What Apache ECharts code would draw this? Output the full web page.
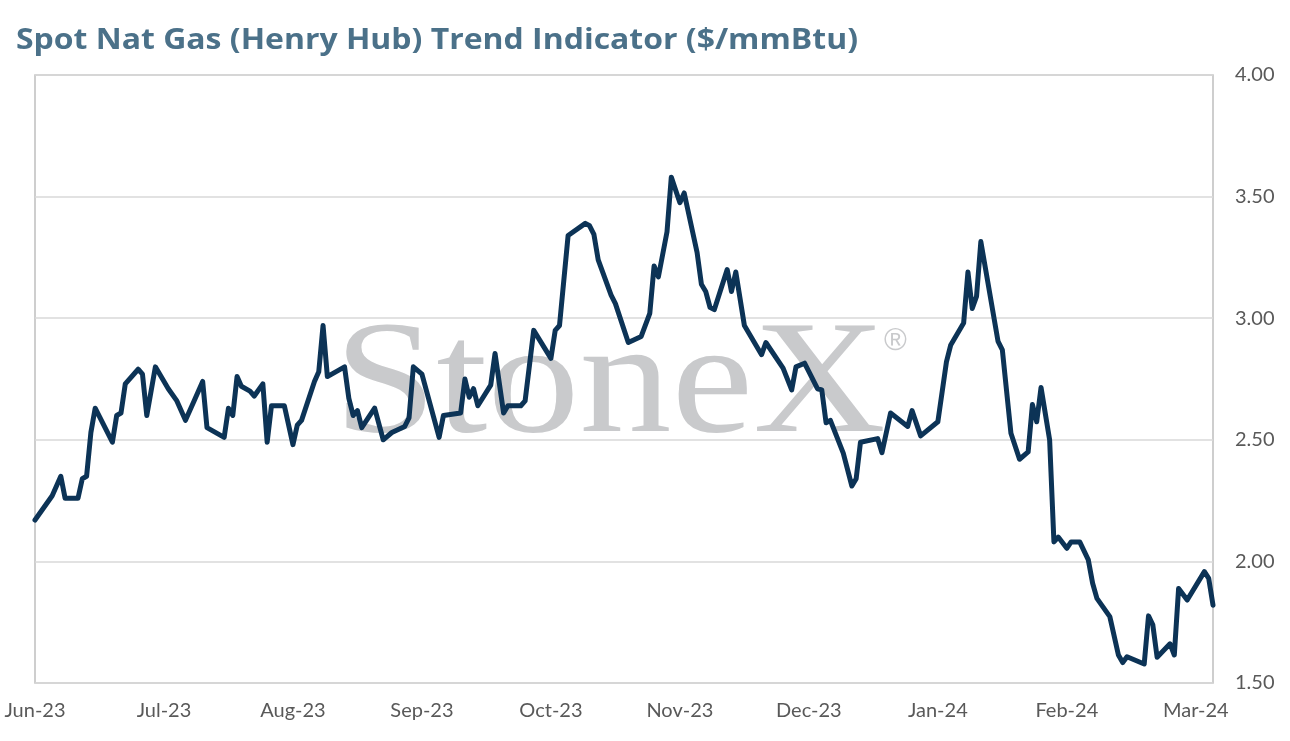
<!DOCTYPE html>
<html>
<head>
<meta charset="utf-8">
<script src="https://cdn.jsdelivr.net/npm/echarts@6/dist/echarts.min.js"></script>
<style>
html,body{margin:0;padding:0;background:#fff;}
#chart{width:1290px;height:741px;}
</style>
</head>
<body>
<div id="chart"></div>
<script>
const titleText = 'Spot Nat Gas (Henry Hub) Trend Indicator ($/mmBtu)';
const xTickLabels = ['Jun-23','Jul-23','Aug-23','Sep-23','Oct-23','Nov-23','Dec-23','Jan-24','Feb-24','Mar-24'];
const xTickStepDays = 30;
const yTicks = [1.5, 2.0, 2.5, 3.0, 3.5, 4.0];

const dates = [
'2023-06-01','2023-06-05','2023-06-07','2023-06-08','2023-06-11','2023-06-12','2023-06-13','2023-06-14','2023-06-15','2023-06-19',
'2023-06-20','2023-06-21','2023-06-22','2023-06-25','2023-06-26','2023-06-27','2023-06-29','2023-07-02','2023-07-04','2023-07-06',
'2023-07-08','2023-07-10','2023-07-11','2023-07-15','2023-07-16','2023-07-17','2023-07-18','2023-07-19','2023-07-21','2023-07-22',
'2023-07-24','2023-07-25','2023-07-26','2023-07-29','2023-07-31','2023-08-01','2023-08-02','2023-08-05','2023-08-06','2023-08-07',
'2023-08-08','2023-08-12','2023-08-13','2023-08-14','2023-08-15','2023-08-16','2023-08-19','2023-08-21','2023-08-23','2023-08-26',
'2023-08-27','2023-08-28','2023-08-30','2023-09-03','2023-09-04','2023-09-08','2023-09-09','2023-09-10','2023-09-11','2023-09-12',
'2023-09-15','2023-09-16','2023-09-18','2023-09-19','2023-09-22','2023-09-23','2023-09-25','2023-09-29','2023-09-30','2023-10-01',
'2023-10-03','2023-10-07','2023-10-08','2023-10-09','2023-10-10','2023-10-13','2023-10-14','2023-10-17','2023-10-20','2023-10-22',
'2023-10-23','2023-10-24','2023-10-26','2023-10-27','2023-10-29','2023-10-30','2023-11-02','2023-11-03','2023-11-04','2023-11-05',
'2023-11-06','2023-11-09','2023-11-10','2023-11-11','2023-11-13','2023-11-17','2023-11-18','2023-11-22','2023-11-24','2023-11-25',
'2023-11-27','2023-11-30','2023-12-01','2023-12-02','2023-12-03','2023-12-06','2023-12-08','2023-12-09','2023-12-10','2023-12-14',
'2023-12-15','2023-12-17','2023-12-21','2023-12-22','2023-12-24','2023-12-28','2023-12-30','2023-12-31','2024-01-03','2024-01-04',
'2024-01-05','2024-01-06','2024-01-07','2024-01-11','2024-01-12','2024-01-14','2024-01-16','2024-01-18','2024-01-19','2024-01-20',
'2024-01-21','2024-01-23','2024-01-24','2024-01-25','2024-01-27','2024-01-28','2024-01-30','2024-02-01','2024-02-02','2024-02-03',
'2024-02-06','2024-02-08','2024-02-09','2024-02-10','2024-02-14','2024-02-15','2024-02-16','2024-02-17','2024-02-20','2024-02-21',
'2024-02-22','2024-02-24','2024-02-28','2024-02-29','2024-03-01'
];

const prices = [
2.17,2.27,2.35,2.26,2.26,2.34,2.35,2.53,2.63,2.49,
2.60,2.61,2.73,2.79,2.77,2.60,2.80,2.71,2.66,2.58,
2.66,2.74,2.55,2.51,2.63,2.60,2.76,2.72,2.70,2.68,
2.73,2.49,2.64,2.64,2.48,2.56,2.58,2.74,2.78,2.97,
2.76,2.80,2.67,2.60,2.62,2.55,2.63,2.50,2.53,2.555,
2.59,2.80,2.77,2.51,2.60,2.61,2.75,2.675,2.71,2.64,
2.725,2.855,2.61,2.64,2.64,2.66,2.95,2.835,2.95,2.97,
3.34,3.39,3.38,3.345,3.24,3.095,3.06,2.90,2.925,3.02,
3.215,3.17,3.355,3.58,3.475,3.515,3.27,3.14,3.11,3.045,
3.035,3.20,3.11,3.19,2.97,2.85,2.90,2.795,2.705,2.80,
2.815,2.71,2.705,2.57,2.58,2.445,2.31,2.34,2.49,2.505,
2.447,2.61,2.555,2.62,2.516,2.574,2.82,2.89,2.98,3.19,
3.04,3.09,3.315,2.905,2.87,2.527,2.42,2.45,2.645,2.574,
2.715,2.50,2.08,2.10,2.054,2.08,2.08,2.006,1.91,1.848,
1.773,1.615,1.584,1.608,1.578,1.776,1.739,1.606,1.661,1.615,
1.889,1.841,1.958,1.93,1.82
];

const xMin = '2023-06-01';
const xMax = '2024-03-01';

const DAY = 86400000;
const toTs = s => Date.UTC(+s.slice(0, 4), +s.slice(5, 7) - 1, +s.slice(8, 10));
const xMinTs = toTs(xMin);
const xMaxTs = toTs(xMax);
const stepMs = xTickStepDays * DAY;

const seriesData = dates.map((d, i) => [toTs(d), prices[i]]);

const axisLabelColor = '#595959';
const labelFont = 'Lato, "Open Sans", sans-serif';
const titleFontSize = 28;
const titleFont = 'bold ' + titleFontSize + 'px "Open Sans", sans-serif';
const titleTargetWidth = 842;

const measureCtx = document.createElement('canvas').getContext('2d');
measureCtx.font = titleFont;
const titleScaleX = titleTargetWidth / measureCtx.measureText(titleText).width;

const wmFont = '162px "Liberation Serif", "DejaVu Serif", serif';
const wmTargetWidth = 552;
measureCtx.font = wmFont;
const wmScaleX = wmTargetWidth / measureCtx.measureText('StoneX').width;

const chart = echarts.init(document.getElementById('chart'), null, {renderer: 'canvas'});

chart.setOption({
  animation: false,
  backgroundColor: '#ffffff',
  graphic: [
    {
      type: 'text',
      x: 16,
      y: 27,
      scaleX: titleScaleX,
      z: 10,
      silent: true,
      style: {
        text: titleText,
        font: titleFont,
        fill: '#4b7189',
        align: 'left',
        verticalAlign: 'top'
      }
    },
    {
      type: 'text',
      x: 334,
      y: 307,
      scaleX: wmScaleX,
      z: 0,
      silent: true,
      style: {
        text: 'StoneX',
        font: wmFont,
        fill: '#c9cacc',
        align: 'left',
        verticalAlign: 'top'
      }
    },
    {
      type: 'text',
      x: 884,
      y: 326,
      z: 0,
      silent: true,
      style: {
        text: '®',
        font: '31px "Liberation Sans", sans-serif',
        fill: '#c9cacc',
        align: 'left',
        verticalAlign: 'top'
      }
    }
  ],
  grid: {
    left: 35,
    right: 77,
    top: 75,
    bottom: 58,
    show: true,
    borderColor: '#bfbfbf',
    borderWidth: 1.5,
    backgroundColor: 'transparent'
  },
  xAxis: {
    type: 'value',
    min: xMinTs,
    max: xMaxTs,
    interval: stepMs,
    axisLine: {show: false},
    axisTick: {show: false},
    splitLine: {show: false},
    axisLabel: {
      color: axisLabelColor,
      fontSize: 20,
      fontFamily: labelFont,
      margin: 18,
      showMinLabel: true,
      showMaxLabel: true,
      hideOverlap: false,
      formatter: function (v) {
        const r = (v - xMinTs) / stepMs;
        const k = Math.round(r);
        if (Math.abs(r - k) > 0.01) return '';
        return xTickLabels[k] || '';
      }
    }
  },
  yAxis: {
    type: 'value',
    position: 'right',
    min: yTicks[0],
    max: yTicks[yTicks.length - 1],
    interval: 0.5,
    axisLine: {show: false},
    axisTick: {show: false},
    splitLine: {show: true, lineStyle: {color: '#d9d9d9', width: 1.5}},
    axisLabel: {
      color: axisLabelColor,
      fontSize: 20,
      fontFamily: labelFont,
      margin: 22,
      formatter: v => v.toFixed(2)
    }
  },
  series: [{
    type: 'line',
    data: seriesData,
    showSymbol: false,
    symbol: 'none',
    z: 5,
    lineStyle: {color: '#0c3356', width: 5, join: 'round', cap: 'round'}
  }]
});
</script>
</body>
</html>
